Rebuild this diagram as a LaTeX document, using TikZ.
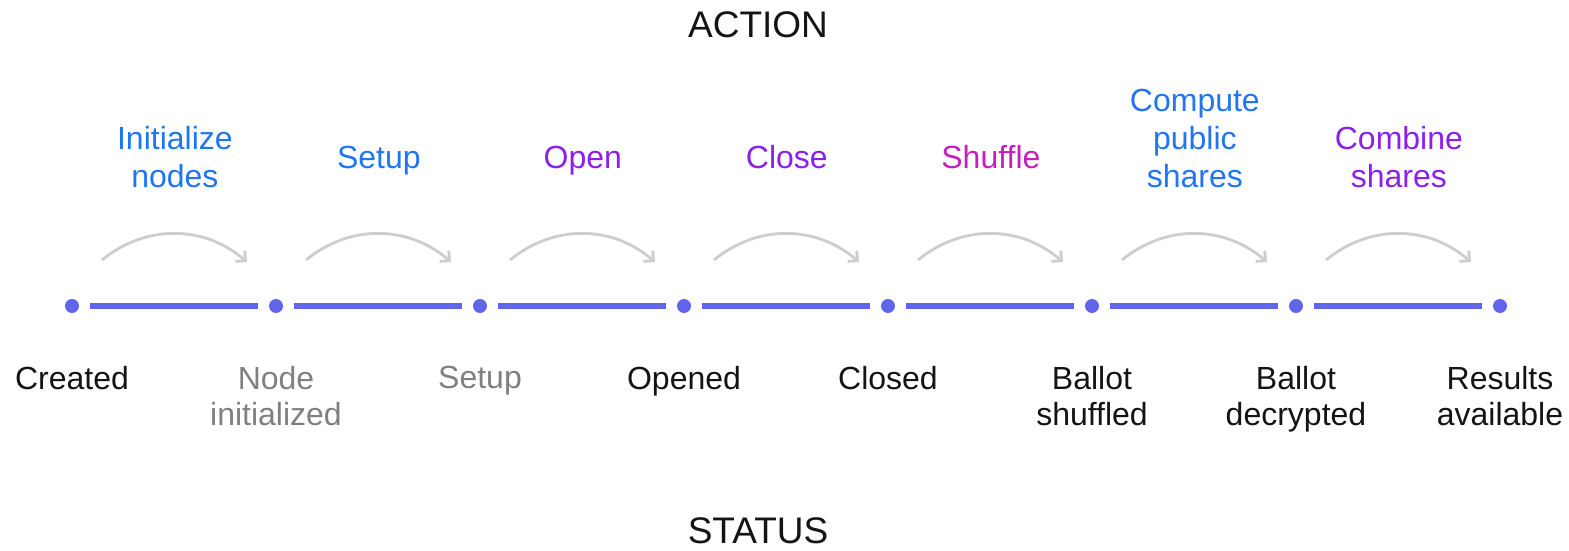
\documentclass[tikz,border=0pt]{standalone}
\usepackage{fontspec}
\setmainfont{Liberation Sans}
\usetikzlibrary{positioning,arrows.meta}
\definecolor{lineblue}{RGB}{96,102,234}
\definecolor{actblue}{RGB}{33,118,240}
\definecolor{actpurple}{RGB}{140,32,234}
\definecolor{actpink}{RGB}{200,30,190}
\definecolor{arcgray}{RGB}{205,205,205}
\definecolor{stgray}{RGB}{128,128,128}
\definecolor{stblack}{RGB}{20,20,20}

\begin{document}
\begin{tikzpicture}[x=0.5pt, y=-0.5pt, node distance=84pt,
    dotnode/.style={circle, fill=lineblue, inner sep=0pt, minimum size=7pt, outer sep=5.5pt},
    segline/.style={lineblue, line width=3pt},
    arcline/.style={arcgray, line width=1.4pt, -{Straight Barb[angle=90:5pt]}},
    actnode/.style={align=center, inner sep=0pt, text depth=0pt, font=\fontsize{16}{19}\selectfont},
    statnode/.style={align=center, inner sep=0pt, font=\fontsize{16}{18}\selectfont},
    titlenode/.style={inner sep=0pt, anchor=base, text=stblack, font=\fontsize{18.5}{22}\selectfont}]
    \useasboundingbox (0,0) rectangle (1569,551);

    %Titles
    \node[titlenode]    (action)    at (758,38)     {ACTION};
    \node[titlenode]    (status)    at (758,543)    {STATUS};

    %Dots
    \node[dotnode]      (d0)        at (72,306)     {};
    \node[dotnode]      (d1)        [right=of d0]   {};
    \node[dotnode]      (d2)        [right=of d1]   {};
    \node[dotnode]      (d3)        [right=of d2]   {};
    \node[dotnode]      (d4)        [right=of d3]   {};
    \node[dotnode]      (d5)        [right=of d4]   {};
    \node[dotnode]      (d6)        [right=of d5]   {};
    \node[dotnode]      (d7)        [right=of d6]   {};

    %Status labels
    \node[statnode, text=stblack]   (s0)    [below=21pt of d0]  {Created};
    \node[statnode, text=stgray]    (s1)    [below=21pt of d1]  {Node\\initialized};
    \node[statnode, text=stgray]    (s2)    [below=21pt of d2]  {Setup};
    \node[statnode, text=stblack]   (s3)    [below=21pt of d3]  {Opened};
    \node[statnode, text=stblack]   (s4)    [below=21pt of d4]  {Closed};
    \node[statnode, text=stblack]   (s5)    [below=21pt of d5]  {Ballot\\shuffled};
    \node[statnode, text=stblack]   (s6)    [below=21pt of d6]  {Ballot\\decrypted};
    \node[statnode, text=stblack]   (s7)    [below=21pt of d7]  {Results\\available};

    %Timeline
    \draw[segline] (d0) -- (d1);
    \draw[segline] (d1) -- (d2);
    \draw[segline] (d2) -- (d3);
    \draw[segline] (d3) -- (d4);
    \draw[segline] (d4) -- (d5);
    \draw[segline] (d5) -- (d6);
    \draw[segline] (d6) -- (d7);

    %Actions
    \draw[arcline] ([xshift=15pt,yshift=23pt]d0.center) to[bend left=40]
        node[actnode, text=actblue, above=22.5pt] (a0) {Initialize\\nodes} ([xshift=-14.5pt,yshift=22pt]d1.center);
    \draw[arcline] ([xshift=15pt,yshift=23pt]d1.center) to[bend left=40]
        node[actnode, text=actblue, above=32pt] (a1) {Setup} ([xshift=-14.5pt,yshift=22pt]d2.center);
    \draw[arcline] ([xshift=15pt,yshift=23pt]d2.center) to[bend left=40]
        node[actnode, text=actpurple, above=32pt] (a2) {Open} ([xshift=-14.5pt,yshift=22pt]d3.center);
    \draw[arcline] ([xshift=15pt,yshift=23pt]d3.center) to[bend left=40]
        node[actnode, text=actpurple, above=32pt] (a3) {Close} ([xshift=-14.5pt,yshift=22pt]d4.center);
    \draw[arcline] ([xshift=15pt,yshift=23pt]d4.center) to[bend left=40]
        node[actnode, text=actpink, above=32pt] (a4) {Shuffle} ([xshift=-14.5pt,yshift=22pt]d5.center);
    \draw[arcline] ([xshift=15pt,yshift=23pt]d5.center) to[bend left=40]
        node[actnode, text=actblue, above=22.5pt] (a5) {Compute\\public\\shares} ([xshift=-14.5pt,yshift=22pt]d6.center);
    \draw[arcline] ([xshift=15pt,yshift=23pt]d6.center) to[bend left=40]
        node[actnode, text=actpurple, above=22.5pt] (a6) {Combine\\shares} ([xshift=-14.5pt,yshift=22pt]d7.center);
\end{tikzpicture}
\end{document}
